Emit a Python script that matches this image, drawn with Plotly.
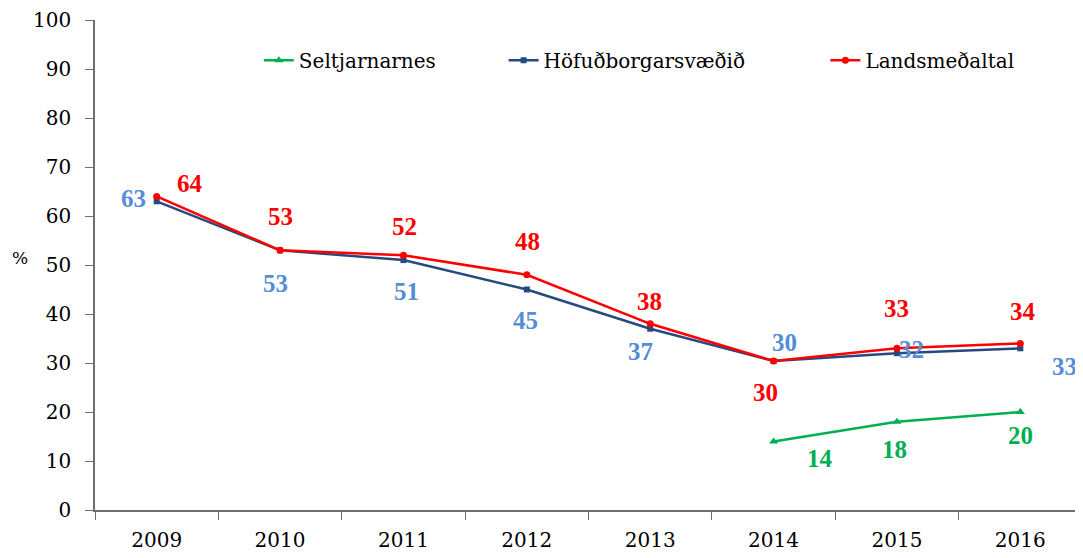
import plotly.graph_objects as go

years = ["2009", "2010", "2011", "2012", "2013", "2014", "2015", "2016"]
selt_years = ["2014", "2015", "2016"]
seltjarnarnes = [14, 18, 20]
hofudborg = [63, 53, 51, 45, 37, 30.4, 32, 33]
landsmedaltal = [64, 53, 52, 48, 38, 30.4, 33, 34]
hofud_labels = ["63", "53", "51", "45", "37", "30", "32", "33"]
lands_labels = ["64", "53", "52", "48", "38", "30", "33", "34"]
selt_labels = ["14", "18", "20"]

# label placement (pixel shifts)
hofud_shift = [(-23, 3), (-5, -33), (3, -31), (-1, -31), (-10, -23), (11, 19), (15, 4), (44, -18)]
lands_shift = [(33, 13), (0, 34), (1, 29), (1, 33), (-1, 22), (-8, -31), (0, 40), (3, 32)]
selt_shift = [(46, -17), (-2, -28), (0, -23)]

GREEN = "#00b050"
NAVY = "#254a7f"
RED = "#ff0000"
LBLUE = "#558ed5"
REG = "DejaVu Serif"
BOLD = "Liberation Serif"
AX = "#6e6e6e"

fig = go.Figure()
fig.add_trace(go.Scatter(x=selt_years, y=seltjarnarnes, name="Seltjarnarnes",
                         mode="lines+markers", line=dict(color=GREEN, width=2.5),
                         marker=dict(symbol="triangle-up", size=8, color=GREEN),
                         legend="legend"))
fig.add_trace(go.Scatter(x=years, y=hofudborg, name="Höfuðborgarsvæðið",
                         mode="lines+markers", line=dict(color=NAVY, width=2.5),
                         marker=dict(symbol="square", size=6, color=NAVY),
                         legend="legend2"))
fig.add_trace(go.Scatter(x=years, y=landsmedaltal, name="Landsmeðaltal",
                         mode="lines+markers", line=dict(color=RED, width=2.5),
                         marker=dict(symbol="circle", size=7, color=RED),
                         legend="legend3"))

anns = []
def add_labels(xs, ys, labels, shifts, color):
    for x, y, t, (dx, dy) in zip(xs, ys, labels, shifts):
        anns.append(dict(x=years.index(x), y=y, xref="x", yref="y",
                         text="<b>" + t + "</b>", showarrow=False, xshift=dx, yshift=dy,
                         font=dict(family=BOLD, size=25, color=color)))

add_labels(years, hofudborg, hofud_labels, hofud_shift, LBLUE)
add_labels(years, landsmedaltal, lands_labels, lands_shift, RED)
add_labels(selt_years, seltjarnarnes, selt_labels, selt_shift, GREEN)

anns.append(dict(xref="paper", yref="paper", x=-0.076, y=0.514, text="%", showarrow=False,
                 xanchor="center", yanchor="middle", font=dict(family=REG, size=17, color="black")))

leg = dict(orientation="h", yanchor="middle", xanchor="left", y=0.918,
           font=dict(family=REG, size=20, color="black"), bgcolor="rgba(0,0,0,0)")

fig.update_layout(
    width=1075, height=550,
    margin=dict(l=87, r=1, t=12, b=48, autoexpand=False),
    plot_bgcolor="white", paper_bgcolor="white",
    font=dict(family=REG, size=20, color="black"),
    showlegend=True,
    legend=dict(x=0.166, **leg),
    legend2=dict(x=0.414, **leg),
    legend3=dict(x=0.740, **leg),
    annotations=anns,
    xaxis=dict(type="category", categoryorder="array", categoryarray=years,
               range=[-0.5, 7.5], tickson="boundaries", ticks="outside", ticklen=8,
               tickcolor=AX, showline=True, linecolor=AX, linewidth=1.5,
               showgrid=False, zeroline=False, ticklabelstandoff=11,
               tickfont=dict(family=REG, size=20, color="black")),
    yaxis=dict(range=[0, 100], tickmode="linear", tick0=0, dtick=10, ticks="outside",
               ticklen=8, tickcolor=AX, showline=True, linecolor=AX,
               linewidth=1.5, showgrid=False, zeroline=False, ticklabelstandoff=10,
               tickfont=dict(family=REG, size=20, color="black")),
)

fig.write_html("out.html")
